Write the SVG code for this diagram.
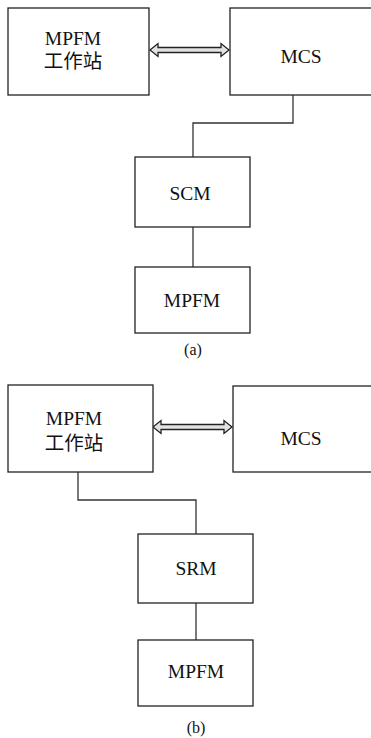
<svg xmlns="http://www.w3.org/2000/svg" width="371" height="738" viewBox="0 0 371 738">
<style>
.box{fill:#fff;stroke:#222;stroke-width:1.3}
.line{fill:none;stroke:#333;stroke-width:1.3}
.arr{fill:#e2e2e2;stroke:#222;stroke-width:1.3;stroke-linejoin:miter}
text{font-family:"Liberation Serif","Noto Sans CJK SC",serif;font-size:19.5px;fill:#111;text-anchor:middle}
.cap{font-size:16px}
</style>
<rect width="371" height="738" fill="#fff"/>
<g id="connectors">
<polygon class="arr" points="150,50 158,43.5 158,47.5 221,47.5 221,43.5 229,50 221,56.5 221,52.5 158,52.5 158,56.5"/>
<polyline class="line" points="293,95 293,123 193,123 193,157"/>
<line class="line" x1="193" y1="227" x2="193" y2="267"/>
<polygon class="arr" points="153,427 161,420.5 161,424.5 224,424.5 224,420.5 232,427 224,433.5 224,429.5 161,429.5 161,433.5"/>
<polyline class="line" points="78,472 78,500 196,500 196,534"/>
<line class="line" x1="196" y1="603" x2="196" y2="640"/>
</g>
<g id="ws-a"><rect class="box" x="8" y="8" width="141" height="87"/><text x="73" y="45">MPFM</text><text x="73" y="68">工作站</text></g>
<g id="mcs-a"><rect class="box" x="230" y="8" width="145" height="87"/><text x="301" y="63">MCS</text></g>
<g id="scm"><rect class="box" x="135" y="157" width="115" height="70"/><text x="190" y="200">SCM</text></g>
<g id="mpfm-a"><rect class="box" x="135" y="267" width="115" height="66"/><text x="192" y="307">MPFM</text></g>
<text class="cap" x="193" y="355">(a)</text>
<g id="ws-b"><rect class="box" x="8" y="385" width="145" height="87"/><text x="74" y="425">MPFM</text><text x="74" y="450">工作站</text></g>
<g id="mcs-b"><rect class="box" x="233" y="386" width="142" height="86"/><text x="301" y="445">MCS</text></g>
<g id="srm"><rect class="box" x="138" y="534" width="115" height="69"/><text x="196" y="575">SRM</text></g>
<g id="mpfm-b"><rect class="box" x="138" y="640" width="115" height="66"/><text x="196" y="678">MPFM</text></g>
<text class="cap" x="196" y="733">(b)</text>
</svg>
